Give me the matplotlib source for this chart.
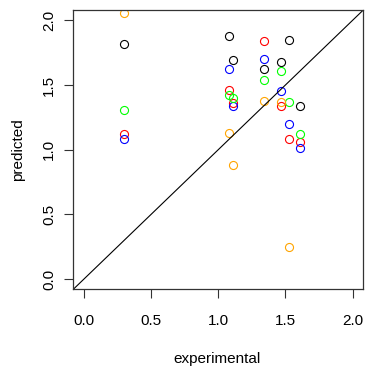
import numpy as np
import matplotlib
matplotlib.use("Agg")
import matplotlib.pyplot as plt

plt.rcParams['font.family'] = ['Liberation Sans', 'DejaVu Sans']

# experimental values (same for every model)
experimental = [0.30, 1.08, 1.11, 1.34, 1.47, 1.53, 1.61]

# predicted values per model (one colour each)
pred_black = [1.82, 1.88, 1.69, 1.62, 1.68, 1.85, 1.34]
pred_red = [1.12, 1.46, 1.36, 1.84, 1.34, 1.08, 1.06]
pred_blue = [1.08, 1.62, 1.34, 1.70, 1.45, 1.20, 1.01]
pred_green = [1.31, 1.42, 1.40, 1.54, 1.61, 1.37, 1.12]
pred_orange = [2.06, 1.13, 0.88, 1.38, 1.37, 0.25]

series = [
    (pred_black, 'black'),
    (pred_red, 'red'),
    (pred_blue, 'blue'),
    (pred_green, '#00ff00'),
    (pred_orange, 'orange'),
]

fig = plt.figure(figsize=(3.73, 3.71), dpi=100)
ax = fig.add_axes([73.3 / 373, 1 - 289.3 / 371, 290 / 373, 279.3 / 371])

for vals, col in series:
    ax.plot(experimental[:len(vals)], vals, linestyle='none', marker='o',
            markersize=5.8, markerfacecolor='none', markeredgecolor=col,
            markeredgewidth=0.8)

ax.axline((0, 0), slope=1, color='black', lw=0.8)

ax.set_xlim(-0.08, 2.08)
ax.set_ylim(-0.08, 2.08)
ticks = [0.0, 0.5, 1.0, 1.5, 2.0]
ax.set_xticks(ticks)
ax.set_yticks(ticks)
ax.set_xticklabels(['%.1f' % t for t in ticks])
ax.set_yticklabels(['%.1f' % t for t in ticks], rotation=90, va='center')
ax.tick_params(axis='both', length=6.5, width=0.8, labelsize=11, color='#333333')
ax.tick_params(axis='x', pad=11)
ax.tick_params(axis='y', pad=6)
for sp in ax.spines.values():
    sp.set_linewidth(0.9)
    sp.set_color('#333333')

fig.text(217 / 373, 1 - 359 / 371, 'experimental', ha='center', va='center', fontsize=11)
fig.text(18 / 373, 1 - 150 / 371, 'predicted', ha='center', va='center', rotation=90, fontsize=11)

fig.savefig('out.png', dpi=100)
